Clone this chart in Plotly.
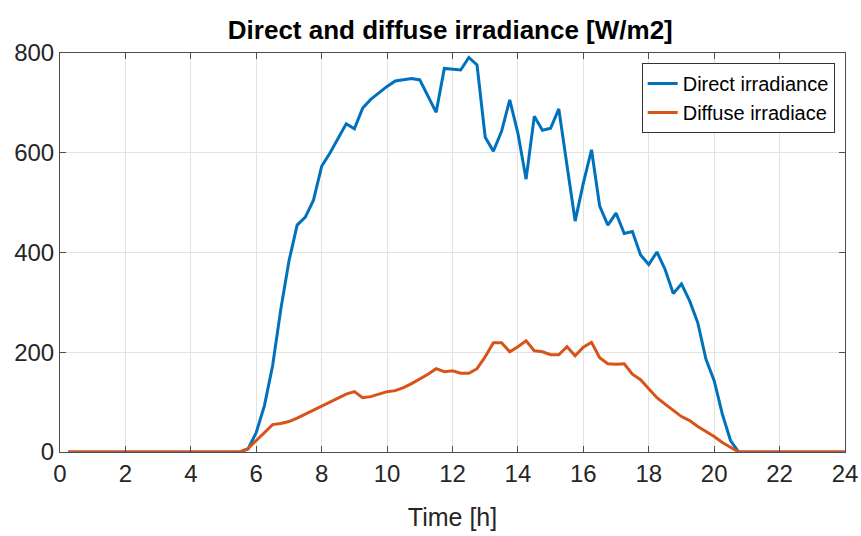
import numpy as np
import plotly.graph_objects as go

# time axis (hours), 15-minute samples
time_h = list(np.arange(0.25, 24.001, 0.25))

direct_irradiance = [0] * 22 + [
    6, 39, 93, 173, 286, 383, 455, 471, 505, 573,
    599, 629, 658, 648, 689, 707, 720, 733, 744, 747,
    749, 746, 713, 681, 769, 768, 766, 791, 776, 631,
    603, 643, 706, 639, 547, 673, 645, 649, 688, 575,
    463, 539, 606, 493, 455, 479, 438, 442, 395, 376,
    401, 366, 318, 337, 303, 259, 186, 143, 76, 23,
] + [0] * 14

diffuse_irradiance = [0] * 22 + [
    7, 23, 39, 55, 57, 61, 68, 76, 85, 93,
    101, 109, 116, 121, 109, 111, 116, 121, 123, 129,
    137, 146, 156, 167, 161, 163, 158, 158, 167, 191,
    219, 219, 201, 211, 223, 203, 201, 195, 195, 211,
    193, 210, 220, 189, 177, 176, 177, 156, 145, 127,
    109, 96, 83, 71, 63, 51, 41, 31, 19, 9,
] + [0] * 14

x_ticks = list(range(0, 25, 2))
y_ticks = [0, 200, 400, 600, 800]

FONT = "Liberation Sans, Arial, Helvetica, sans-serif"

fig = go.Figure()
fig.add_trace(go.Scatter(x=time_h, y=direct_irradiance, mode="lines",
                         name="Direct irradiance",
                         line=dict(color="#0072BD", width=3)))
fig.add_trace(go.Scatter(x=time_h, y=diffuse_irradiance, mode="lines",
                         name="Diffuse irradiace",
                         line=dict(color="#D95319", width=3)))

axis_common = dict(
    showgrid=True, gridcolor="#e3e3e3", gridwidth=1,
    showline=True, linecolor="#4d4d4d", linewidth=1, mirror="ticks",
    ticks="inside", ticklen=6, tickcolor="#4d4d4d",
    zeroline=False, automargin=False,
    tickfont=dict(family=FONT, size=24, color="#262626"),
)

fig.update_layout(
    width=861, height=536,
    margin=dict(l=60, r=16, t=53, b=84),
    paper_bgcolor="white", plot_bgcolor="white",
    font=dict(family=FONT, color="#262626"),
    title=dict(text="<b>Direct and diffuse irradiance [W/m2]</b>",
               font=dict(family=FONT, size=26, color="#000000"),
               x=0.523, xanchor="center", xref="container",
               y=1 - 30 / 536, yanchor="middle", yref="container"),
    xaxis=dict(range=[0, 24], tickvals=x_ticks,
               title=dict(text="Time [h]", font=dict(family=FONT, size=25, color="#262626"),
                          standoff=22),
               **axis_common),
    yaxis=dict(range=[0, 800], tickvals=y_ticks, **axis_common),
    legend=dict(x=0.741, y=0.975, xanchor="left", yanchor="top",
                bordercolor="#333333", borderwidth=1, bgcolor="white",
                font=dict(family=FONT, size=20, color="#000000"),
                tracegroupgap=0, itemwidth=30),
    showlegend=True,
)

fig.write_html("out.html")
